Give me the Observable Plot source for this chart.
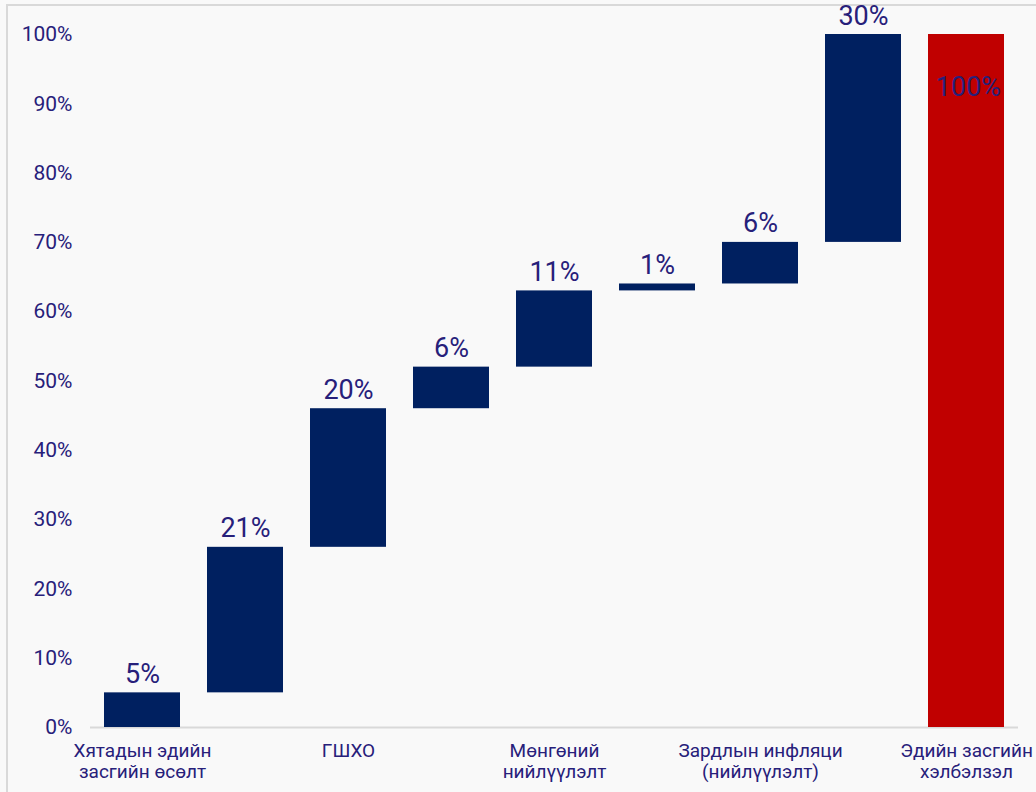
<!DOCTYPE html>
<html>
<head>
<meta charset="utf-8">
<script src="https://cdn.jsdelivr.net/npm/d3@7"></script>
<script src="https://cdn.jsdelivr.net/npm/@observablehq/plot@0.6"></script>
<style>
  html, body { margin: 0; padding: 0; background: #f9f9f9; }
  #wrap { position: relative; width: 1036px; height: 792px; overflow: hidden; }
  #frame { position: absolute; left: 6px; top: 4px; width: 1100px; height: 900px;
           border-left: 2px solid #d9d9d9; border-top: 2px solid #d9d9d9; background: #f9f9f9; }
  #chart { position: absolute; left: 0; top: 0; }
</style>
</head>
<body>
<div id="wrap"><div id="frame"></div><div id="chart"></div></div>
<script>
// Categories (Excel only shows every other label; unlabelled bars have empty names)
const categories = [
  "Хятадын эдийн\nзасгийн өсөлт", "",
  "ГШХО", "",
  "Мөнгөний\nнийлүүлэлт", "",
  "Зардлын инфляци\n(нийлүүлэлт)", "",
  "Эдийн засгийн\nхэлбэлзэл"
];
// Contributions (%) of the first eight bars, and the total bar
const contributions = [5, 21, 20, 6, 11, 1, 6, 30];
const totalValue = 100;
const yTicks = [0, 10, 20, 30, 40, 50, 60, 70, 80, 90, 100];

const ends = Array.from(d3.cumsum(contributions));
const data = contributions.map((v, i) => ({
  i, value: v, start: ends[i] - v, end: ends[i], total: false
}));
data.push({ i: contributions.length, value: totalValue, start: 0, end: totalValue, total: true });

const textColor = "#27207a";
const steps = data.filter(d => !d.total);
const totals = data.filter(d => d.total);

const chart = Plot.plot({
  width: 1036,
  height: 792,
  marginTop: 34,
  marginBottom: 65,
  marginLeft: 90,
  marginRight: 18,
  style: { background: "transparent", color: textColor, fontFamily: "Roboto, sans-serif" },
  x: { type: "band", domain: d3.range(categories.length), paddingInner: 0.26, paddingOuter: 0.13 },
  y: { domain: [0, 100] },
  marks: [
    Plot.ruleY([0], { stroke: "#d9d9d9", strokeWidth: 2 }),
    Plot.text(steps, {
      x: "i", y: "end", text: d => d.value + "%", lineAnchor: "bottom", dy: -10,
      fontSize: 27, fill: textColor
    }),
    Plot.barY(data, {
      x: "i", y1: "start", y2: "end",
      fill: d => d.total ? "#c00000" : "#002060"
    }),
    Plot.text(totals, {
      x: "i", y: "end", text: d => d.value + "%", lineAnchor: "middle", dy: 53, dx: 2,
      fontSize: 27, fill: textColor
    }),
    Plot.axisY({
      ticks: yTicks, tickSize: 0, tickPadding: 18, fontSize: 21,
      tickFormat: d => d + "%", label: null
    }),
    Plot.axisX({
      tickSize: 0, tickPadding: 15, fontSize: 19, lineHeight: 1.1,
      tickFormat: i => categories[i], label: null
    })
  ]
});
document.getElementById("chart").appendChild(chart);
</script>
</body>
</html>
